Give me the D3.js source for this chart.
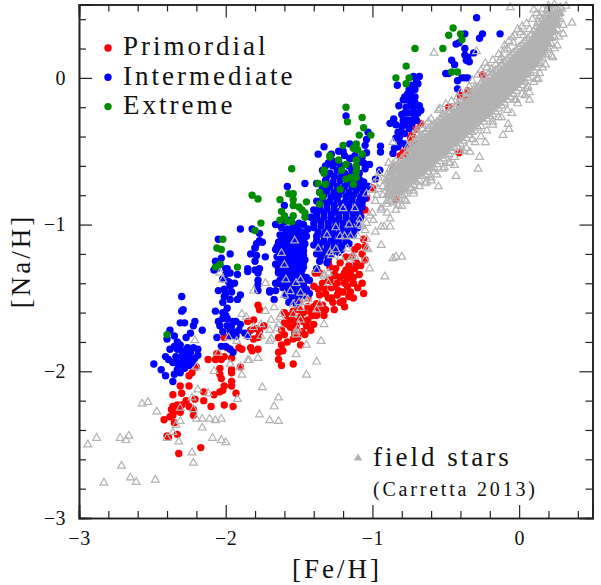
<!DOCTYPE html>
<html>
<head>
<meta charset="utf-8">
<script src="https://cdn.jsdelivr.net/npm/d3@7"></script>
<style>
html, body { margin: 0; padding: 0; background: #fff; }
svg { display: block; }
text { font-family: "Liberation Serif", serif; fill: #111; }
</style>
</head>
<body>
<div id="chart"></div>
<script>
// [Fe/H], [Na/H]
var primordial = [
[-2.32,-2.56],[-2.17,-2.52],[-2.40,-2.44],[-2.39,-2.45],[-2.33,-2.43],[-2.35,-2.35],[-2.42,-2.33],[-2.38,-2.31],[-2.36,-2.30],[-2.37,-2.26],
[-2.35,-2.27],[-2.31,-2.28],[-2.30,-2.23],[-2.33,-2.23],[-2.36,-2.24],[-2.32,-2.25],[-2.22,-2.30],[-2.25,-2.24],[-2.22,-2.26],[-2.21,-2.19],
[-2.15,-2.20],[-2.10,-2.24],[-2.15,-2.14],[-2.08,-2.16],[-2.04,-2.14],[-2.02,-2.13],[-2.01,-2.10],[-2.01,-2.23],[-1.95,-2.24],[-1.93,-2.15],
[-1.96,-2.10],[-1.96,-2.07],[-1.96,-2.01],[-1.96,-1.99],[-2.36,-2.16],[-2.31,-2.10],[-2.30,-2.15],[-2.25,-2.10],[-2.25,-2.03],[-2.23,-2.01],
[-2.20,-1.97],[-2.27,-2.20],[-2.12,-1.92],[-2.07,-1.92],[-2.06,-1.88],[-2.03,-1.92],[-2.01,-1.90],[-1.96,-1.91],[-2.04,-1.98],[-2.04,-2.02],
[-2.03,-2.05],[-1.90,-1.97],[-2.01,-1.77],[-1.99,-1.84],[-1.89,-1.85],[-1.91,-1.84],[-1.83,-1.84],[-1.82,-1.86],[-1.78,-1.85],[-1.85,-1.66],
[-1.81,-1.65],[-1.77,-1.58],[-1.78,-1.55],[-1.77,-1.73],[-1.78,-1.77],[-1.81,-1.78],[-1.74,-1.69],[-1.79,-1.71],[-1.83,-1.72],[-1.64,-1.92],
[-1.62,-1.96],[-1.54,-1.95],[-1.64,-1.87],[-1.61,-1.86],[-1.64,-1.77],[-1.62,-1.82],[-1.58,-1.80],[-1.54,-1.59],[-1.49,-1.63],[-1.56,-1.65],
[-1.60,-1.67],[-1.52,-1.69],[-1.45,-1.69],[-1.48,-1.73],[-1.42,-1.72],[-1.49,-1.82],[-1.51,-1.77],[-1.58,-1.62],[-1.62,-1.72],[-1.44,-1.65],
[-1.38,-1.54],[-1.36,-1.58],[-1.33,-1.62],[-1.40,-1.56],[-1.37,-1.44],[-1.30,-1.38],[-1.32,-1.47],[-1.28,-1.43],[-1.56,-1.70],[-1.53,-1.74],
[-1.47,-1.60],[-1.41,-1.62],[-1.19,-1.56],[-1.06,-1.47],[-1.15,-1.46],[-1.16,-1.49],[-1.23,-1.45],[-1.19,-1.40],[-1.13,-1.40],[-1.28,-1.50],
[-1.29,-1.38],[-1.25,-1.35],[-1.19,-1.33],[-1.15,-1.33],[-1.07,-1.40],[-1.22,-1.53],[-1.10,-1.43],[-1.26,-1.42],[-1.00,-.75],[-1.04,-.82],
[-1.05,-.90],[-1.10,-.98],[-1.08,-.94],[-1.06,-1.10],[-1.05,-1.15],[-1.10,-1.15],[-1.12,-1.17],[-1.18,-1.22],[-1.22,-1.26],[-1.18,-1.31],
[-1.11,-1.26],[-1.15,-1.33],[-1.20,-1.35],[-1.29,-1.29],[-1.36,-1.33],[-1.39,-1.33],[-1.30,-1.26],[-1.25,-1.30],[-1.14,-1.22],[-1.07,-1.20],
[-1.34,-1.40],[-1.40,-1.42],[-1.44,-1.50],[-1.50,-1.52],[-.67,-.31],[-.70,-.35],[-.73,-.39],[-.74,-.41],[-.70,-.45],[-.75,-.46],[-.77,-.49],
[-.81,-.53],[-.84,-.60],[-.86,-.63],[-.78,-.58],[-.76,-.54],[-.79,-.51],[-.25,.02],[-.35,-.09],[-.30,-.12],[-.31,-.15],[-.40,-.19],[-.48,-.20],
[-.40,-.12],[-.36,-.15],[-.41,-.51],[-.84,-.83],
[-1.60,-1.60],[-1.55,-1.62],[-1.50,-1.58],[-1.58,-1.68],[-1.53,-1.66],[-1.47,-1.66],[-1.42,-1.60],[-1.40,-1.68],[-1.46,-1.75],[-1.54,-1.78],
[-1.60,-1.75],[-1.44,-1.56],[-1.38,-1.62],[-1.34,-1.55],[-1.30,-1.50],[-1.36,-1.48],[-1.33,-1.43],[-1.27,-1.53],[-1.24,-1.48],[-1.20,-1.46],
[-1.24,-1.40],[-1.17,-1.42],[-1.13,-1.36],[-1.22,-1.36],[-1.26,-1.34],[-1.17,-1.37],[-1.12,-1.30],[-1.08,-1.28],[-1.05,-1.24],[-1.16,-1.28],
[-1.09,-1.34],[-1.26,-1.58],[-1.32,-1.58],[-1.20,-1.52],[-1.13,-1.50]
];

var intermediate = [
// -2.3 group
[-2.30,-1.49],[-2.30,-1.59],[-2.29,-1.58],[-2.31,-1.67],[-2.28,-1.67],[-2.21,-1.66],[-2.22,-1.69],[-2.16,-1.72],[-2.24,-1.74],[-2.38,-1.72],
[-2.35,-1.76],[-2.40,-1.78],[-2.27,-1.77],[-2.33,-1.80],[-2.38,-1.85],[-2.41,-1.90],[-2.39,-1.92],[-2.49,-1.95],[-2.44,-1.99],[-2.41,-2.03],
[-2.36,-2.07],[-2.33,-1.99],[-2.35,-2.02],[-2.33,-1.85],[-2.30,-1.86],[-2.26,-1.84],[-2.22,-1.84],[-2.19,-1.85],[-2.34,-1.90],[-2.30,-1.90],
[-2.27,-1.88],[-2.24,-1.87],[-2.19,-1.89],[-2.33,-1.94],[-2.29,-1.94],[-2.25,-1.91],[-2.21,-1.91],[-2.32,-1.97],[-2.28,-1.98],[-2.25,-1.96],
[-2.22,-1.94],[-2.35,-1.83],[-2.31,-1.82],[-2.36,-1.94],[-2.31,-2.01],[-2.27,-1.92],
// -1.95 group
[-1.90,-1.03],[-1.82,-1.03],[-2.05,-1.10],[-1.77,-1.06],[-1.79,-1.13],[-1.77,-1.11],[-1.97,-1.20],[-1.83,-1.20],[-1.80,-1.16],[-1.79,-1.21],
[-1.73,-1.22],[-2.07,-1.25],[-2.03,-1.23],[-2.04,-1.27],[-2.06,-1.30],[-2.00,-1.30],[-1.85,-1.30],[-1.77,-1.30],[-2.08,-1.31],[-1.99,-1.30],
[-1.97,-1.33],[-2.00,-1.34],[-1.92,-1.34],[-1.94,-1.40],[-1.98,-1.39],[-1.97,-1.42],[-2.05,-1.45],[-2.01,-1.44],[-2.01,-1.49],[-2.02,-1.53],
[-1.92,-1.51],[-1.90,-1.48],[-1.97,-1.51],[-2.07,-1.59],[-1.99,-1.57],[-2.00,-1.62],[-1.99,-1.64],[-2.05,-1.66],[-2.04,-1.69],[-1.99,-1.69],
[-1.95,-1.66],[-1.93,-1.66],[-1.90,-1.68],[-1.97,-1.72],[-2.02,-1.73],[-1.95,-1.73],[-1.91,-1.72],[-1.87,-1.74],[-2.06,-1.77],[-1.97,-1.76],
[-1.93,-1.76],[-1.85,-1.76],[-2.03,-1.83],[-2.00,-1.83],[-1.97,-1.85],[-1.95,-1.87],[-1.80,-1.16],[-1.85,-1.32],[-1.80,-1.31],[-1.78,-1.33],
[-1.78,-1.38],[-1.78,-1.41],[-1.78,-1.45],[-1.70,-1.46],[-1.66,-1.45],[-1.64,-1.32],[-1.65,-1.15],[-1.64,-1.40],[-1.75,-1.12],[-1.80,-1.25],
[-2.02,-1.60],[-2.00,-1.47],[-2.02,-1.37],[-1.96,-1.46],[-2.02,-1.64],[-1.96,-1.69],
// -1.55 group
[-1.58,-.74],[-1.46,-.72],[-1.66,-1.0],[-1.60,-.98],[-1.57,-.97],[-1.54,-1.0],[-1.50,-.99],[-1.47,-1.0],[-1.62,-1.02],[-1.58,-1.03],[-1.55,-1.04],
[-1.51,-1.03],[-1.48,-1.05],[-1.44,-1.03],[-1.63,-1.07],[-1.60,-1.08],[-1.56,-1.07],[-1.52,-1.08],[-1.49,-1.09],[-1.45,-1.08],[-1.64,-1.12],
[-1.61,-1.13],[-1.57,-1.12],[-1.53,-1.13],[-1.49,-1.14],[-1.46,-1.13],[-1.66,-1.17],[-1.62,-1.18],[-1.58,-1.17],[-1.54,-1.18],[-1.50,-1.19],
[-1.47,-1.18],[-1.65,-1.22],[-1.61,-1.23],[-1.57,-1.22],[-1.53,-1.24],[-1.49,-1.23],[-1.46,-1.24],[-1.66,-1.27],[-1.62,-1.28],[-1.58,-1.28],
[-1.54,-1.29],[-1.50,-1.28],[-1.47,-1.29],[-1.64,-1.33],[-1.60,-1.33],[-1.56,-1.34],[-1.52,-1.33],[-1.48,-1.35],[-1.63,-1.38],[-1.59,-1.39],
[-1.55,-1.38],[-1.51,-1.39],[-1.47,-1.40],[-1.43,-1.38],[-1.61,-1.43],[-1.57,-1.44],[-1.53,-1.44],[-1.49,-1.43],[-1.45,-1.44],[-1.59,-1.48],
[-1.55,-1.49],[-1.51,-1.49],[-1.47,-1.48],[-1.43,-1.47],[-1.57,-1.53],[-1.52,-1.54],[-1.70,-1.45],[-1.67,-1.51],[-1.66,-1.40],[-1.60,-.87],
[-1.59,-1.05],[-1.54,-1.06],[-1.50,-1.06],[-1.46,-1.06],[-1.62,-1.10],[-1.58,-1.10],[-1.54,-1.11],[-1.50,-1.11],[-1.47,-1.11],[-1.63,-1.15],
[-1.59,-1.15],[-1.55,-1.16],[-1.51,-1.16],[-1.47,-1.15],[-1.63,-1.20],[-1.59,-1.20],[-1.55,-1.21],[-1.51,-1.21],[-1.47,-1.21],[-1.63,-1.25],
[-1.59,-1.25],[-1.55,-1.26],[-1.51,-1.25],[-1.47,-1.26],[-1.64,-1.30],[-1.60,-1.30],[-1.56,-1.31],[-1.52,-1.30],[-1.48,-1.31],[-1.61,-1.36],
[-1.57,-1.36],[-1.53,-1.36],[-1.49,-1.37],[-1.45,-1.36],[-1.59,-1.41],[-1.55,-1.41],[-1.51,-1.42],[-1.47,-1.42],[-1.57,-1.46],[-1.53,-1.47],
[-1.49,-1.46],[-1.45,-1.46],
// -1.25 group
[-1.30,-.58],[-1.24,-.57],[-1.15,-.55],[-1.10,-.58],[-1.37,-.52],[-1.33,-.47],[-1.28,-.52],[-1.20,-.50],[-1.12,-.53],[-1.07,-.54],[-1.34,-.63],
[-1.29,-.65],[-1.24,-.63],[-1.19,-.65],[-1.14,-.63],[-1.09,-.65],[-1.05,-.62],[-1.38,-.72],[-1.32,-.70],[-1.27,-.71],[-1.22,-.70],[-1.17,-.71],
[-1.12,-.70],[-1.07,-.71],[-1.03,-.74],[-1.36,-.78],[-1.31,-.77],[-1.26,-.78],[-1.21,-.77],[-1.16,-.78],[-1.11,-.77],[-1.06,-.78],[-1.38,-.84],
[-1.34,-.83],[-1.29,-.84],[-1.24,-.83],[-1.19,-.85],[-1.14,-.83],[-1.09,-.84],[-1.05,-.82],[-1.40,-.90],[-1.36,-.90],[-1.31,-.89],[-1.26,-.90],
[-1.21,-.90],[-1.16,-.89],[-1.11,-.90],[-1.07,-.88],[-1.42,-.95],[-1.38,-.96],[-1.33,-.95],[-1.28,-.96],[-1.23,-.96],[-1.18,-.95],[-1.13,-.96],
[-1.08,-.95],[-1.40,-1.02],[-1.35,-1.01],[-1.30,-1.02],[-1.25,-1.01],[-1.20,-1.02],[-1.15,-1.01],[-1.10,-1.02],[-1.38,-1.08],[-1.33,-1.08],
[-1.28,-1.08],[-1.23,-1.07],[-1.18,-1.08],[-1.13,-1.07],[-1.40,-1.14],[-1.36,-1.13],[-1.31,-1.14],[-1.26,-1.13],[-1.21,-1.14],[-1.16,-1.13],
[-1.38,-1.20],[-1.33,-1.19],[-1.28,-1.20],[-1.23,-1.19],[-1.36,-1.25],[-1.31,-1.26],[-1.38,-1.30],[-1.18,-.26],[-1.155,-.45],[-1.23,-.50],
[-1.19,-.53],[-1.155,-.55],[-1.23,-.58],[-1.28,-.56],[-1.06,-.58],[-1.09,-.69],[-1.06,-.71],[-1.03,-.37],[-1.04,-.42],[-1.05,-.46],[-1.04,-.51],
[-1.02,-.59],[-.98,-.69],[-1.03,-.74],[-.945,-.465],[-.945,-.505],[-.95,-.63],
[-1.32,-.60],[-1.27,-.60],[-1.21,-.60],[-1.16,-.60],[-1.11,-.61],[-1.31,-.67],[-1.26,-.67],[-1.21,-.67],[-1.16,-.67],[-1.11,-.67],[-1.34,-.75],
[-1.29,-.74],[-1.24,-.74],[-1.19,-.74],[-1.14,-.74],[-1.09,-.74],[-1.05,-.75],[-1.33,-.80],[-1.28,-.81],[-1.23,-.80],[-1.18,-.81],[-1.13,-.80],
[-1.08,-.81],[-1.36,-.87],[-1.31,-.86],[-1.26,-.87],[-1.21,-.86],[-1.16,-.86],[-1.11,-.87],[-1.07,-.85],[-1.38,-.93],[-1.33,-.92],[-1.28,-.93],
[-1.23,-.93],[-1.18,-.92],[-1.13,-.93],[-1.09,-.92],[-1.40,-.99],[-1.35,-.98],[-1.30,-.99],[-1.25,-.98],[-1.20,-.99],[-1.15,-.98],[-1.10,-.98],
[-1.37,-1.05],[-1.32,-1.05],[-1.27,-1.05],[-1.22,-1.05],[-1.17,-1.05],[-1.12,-1.04],[-1.38,-1.11],[-1.33,-1.11],[-1.28,-1.11],[-1.23,-1.10],
[-1.18,-1.11],[-1.36,-1.17],[-1.31,-1.17],[-1.26,-1.16],[-1.21,-1.17],[-1.35,-1.22],[-1.30,-1.23],
// -0.75 group
[-.83,-.05],[-.68,.01],[-.72,.01],[-.70,-.02],[-.69,-.04],[-.71,-.08],[-.73,-.05],[-.76,-.11],[-.78,-.13],[-.79,-.15],[-.75,-.15],[-.71,-.13],
[-.68,-.19],[-.67,-.22],[-.69,-.24],[-.72,-.20],[-.77,-.20],[-.82,-.19],[-.78,-.24],[-.73,-.24],[-.70,-.29],[-.75,-.29],[-.79,-.29],[-.855,-.28],
[-.88,-.31],[-.84,-.32],[-.80,-.33],[-.75,-.345],[-.825,-.37],[-.78,-.38],[-.84,-.41],[-.81,-.44],[-.85,-.48],[-.825,-.47],[-.78,-.45],[-.86,-.515],
[-.77,-.15],[-.75,-.08],[-.80,-.25],[-.815,-.40],[-.78,-.32],[-.74,-.11],[-.74,-.19],[-.71,-.17],[-.76,-.24],[-.71,-.27],[-.77,-.29],[-.73,-.31],
[-.80,-.37],
// top right group
[-.29,.41],[-.25,.30],[-.27,.27],[-.13,.30],[-.37,.30],[-.43,.23],[-.41,.24],[-.37,.20],[-.37,.155],[-.31,.17],[-.35,.14],[-.36,.12],[-.34,.11],
[-.46,.12],[-.44,.09],[-.50,.03],[-.48,.03],[-.39,0],[-.42,-.02],[-.37,0],[-.35,0],[-.42,-.075]
];

var extreme = [
[-2.40,-1.75],[-1.92,-1.29],[-1.55,-.62],[-1.82,-.80],[-1.78,-.825],[-1.76,-.99],[-1.80,-1.04],[-2.02,-1.10],[-2.06,-1.16],[-2.03,-1.17],
[-2.04,-1.27],[-2.07,-1.29],[-1.63,-.83],[-1.57,-.79],[-1.54,-.79],[-1.54,-.83],[-1.54,-.87],[-1.45,-.845],[-1.62,-.91],[-1.60,-.94],[-1.54,-.94],
[-1.50,-.88],[-1.48,-.90],[-1.46,-.92],[-1.46,-.95],[-1.63,-.97],[-1.58,-.975],[-1.55,-.98],[-1.36,-.86],[-1.37,-.72],[-1.32,-.725],[-1.36,-.78],
[-1.34,-.81],[-1.33,-.63],[-1.33,-.65],[-1.29,-.54],[-1.18,-.20],[-1.17,-.30],[-1.07,-.27],[-1.06,-.34],[-1.01,-.39],[-1.09,-.39],[-1.20,-.46],
[-1.11,-.45],[-1.13,-.48],[-1.10,-.49],[-1.07,-.52],[-1.29,-.53],[-1.23,-.56],[-1.18,-.59],[-1.11,-.56],[-1.11,-.60],[-1.21,-.63],[-1.11,-.64],
[-1.18,-.69],[-1.15,-.68],[-1.11,-.68],[-1.13,-.725],[-1.22,-.76],[-.84,0],[-.77,.08],[-.75,0],[-.77,-.04],[-.71,.20],[-.52,.20],[-.45,.34],
[-.48,.29],[-.40,.30],[-.39,.26],[-.42,.04],[-.46,.04]
];

// scattered field stars
var fieldScatter = [
[-2.94,-2.50],[-2.88,-2.455],[-2.72,-2.455],[-2.68,-2.47],[-2.66,-2.44],[-2.83,-2.76],[-2.71,-2.645],[-2.65,-2.725],[-2.61,-2.755],[-2.48,-2.74],
[-2.57,-2.22],[-2.53,-2.21],[-2.47,-2.275],[-2.23,-2.555],[-2.22,-2.625],[-2.09,-2.455],[-2.03,-2.47],[-2.0,-2.485],[-2.16,-2.385],[-2.20,-2.325],
[-2.16,-2.325],[-2.11,-2.325],[-2.07,-2.335],[-2.03,-2.325],[-2.31,-2.34],[-2.34,-2.365],[-2.36,-2.415],[-2.40,-2.455],[-2.32,-2.48],[-2.31,-2.25],
[-2.22,-2.26],[-2.23,-2.18],[-2.19,-2.125],[-2.12,-2.15],[-1.92,-2.19],[-1.77,-2.295],[-1.70,-2.335],[-1.64,-2.34],[-1.67,-2.24],[-1.64,-2.18],
[-1.75,-2.11],[-1.45,-2.025],[-1.38,-1.935],[-1.52,-1.885],[-1.35,-1.795],[-1.33,-1.68],[-1.45,-1.82],[-2.08,-2.0],[-1.89,-2.025],[-2.20,-1.97],
[-2.05,-1.875],[-2.21,-1.79],[-1.98,-1.77],[-1.78,-1.91],[-1.84,-1.925],[-1.85,-1.925],[-1.90,-1.97],[-1.97,-1.95],[-1.85,-1.76],[-1.925,-1.795],
[-1.76,-1.76],[-1.70,-1.795],[-1.69,-1.78],[-1.70,-1.72],[-1.76,-1.68],[-1.81,-1.70],[-1.89,-1.61],[-1.86,-1.63],[-1.81,-1.45],[-1.73,-1.40],
[-2.02,-1.375],[-2.04,-1.33],[-1.73,-1.59],[-1.69,-1.65],[-1.67,-1.565],[-1.62,-1.61],[-1.63,-1.63],[-1.64,-1.68],[-1.65,-1.71],[-1.52,-1.75],
[-1.52,-1.73],[-1.49,-1.65],[-1.51,-1.71],[-1.54,-1.61],[-1.54,-1.545],[-1.49,-1.57],[-1.50,-1.53],[-1.45,-1.53],[-1.44,-1.51],[-1.46,-1.50],
[-1.60,-1.48],[-1.56,-1.455],[-1.49,-1.465],[-1.52,-1.40],[-1.49,-1.375],[-1.59,-1.375],[-1.38,-1.31],[-1.38,-1.58],[-1.33,-1.35],[-1.30,-1.40],
[-1.36,-1.54],[-1.53,-1.11],[-1.62,-1.195],[-1.60,-1.275],[-1.37,-1.165],[-1.31,-1.07],[-1.20,-.89],[-1.12,-.89],[-1.25,-1.02],[-1.16,-1.0],[-1.09,-1.0],
[-1.085,-.965],[-1.22,-1.08],[-1.19,-1.08],[-1.15,-1.08],[-1.10,-1.08],[-1.25,-1.17],[-1.17,-1.165],[-1.29,-1.19],[-1.28,-1.21],[-1.12,-1.22],
[-1.22,-1.22],[-1.33,-1.34],[-1.30,-1.33],[-1.15,-1.24],[-1.14,-1.22],[-1.04,-.79],[-1.0,-.92],[-.98,-1.05],[-.94,-1.14],[-1.05,-1.04],[-1.07,-1.01],
[-1.04,-1.10],[-1.04,-1.16],[-.915,-1.355],[-1.03,-1.17],[-1.05,-1.24],[-1.02,-1.30],[-.86,-1.23],[-.84,-1.22],[-.80,-1.22],[-.88,-1.015],
[-.92,-1.015],[-.88,-.96],[-.94,-1.015],[-1.02,-.94],[-.995,-.97],[-1.04,-.99],[-.94,-.885],[-.825,-.87],[-.77,-.84],[-.80,-.875],[-.55,-.74],
[-.43,-.67],[-.28,-.62],[-.27,-.54],[-.11,-.39],[-.07,-.35],[-.075,-.315],[-.01,-.175],[.07,-.15],[.13,-.005],[.23,.14],[.36,.375],[.32,.49],
[-.06,.48],[.10,.465],[.14,.42],[-.045,.275],[.01,.31],[-.10,.19],[-.23,.10],[-.13,.12],[-.29,.18],[-.58,.17],[-.16,.09],[-.2,.04],[-.245,-.06],
[-.86,-.44],[-.89,-.58],[-.955,-.65],[-1.0,-.765],[-.97,-.80],[-.93,-.74],[-.54,-.21],[-.50,-.18],[-.56,-.33],[-.63,-.71],[-.72,-.77],[-.51,-.61],
[-.44,-.595],[-.335,-.505],[-.23,-.44],[-.05,-.24],[.04,-.12],[.07,-.10],[.12,-.01],[-.62,-.30],[-.66,-.35],[-.70,-.38],[-.76,-.47],[-.48,-.24],
[-.36,-.10],[-.30,-.06],[-.24,.0],[-.19,.06],[-.12,.14],[-.08,.20],[-.04,.24],[.03,.29],[.07,.33],[.13,.38],[.19,.46],[.24,.50],[-.60,-.68],
[-.58,-.64],[-.47,-.58],[-.38,-.50],[-.30,-.44],[-.18,-.32],[-.12,-.27],[-.03,-.15],[.05,-.07],[.16,.07],[.24,.20],[.27,.28],[.30,.36],[.29,.47],
// left of the band foot
[-.99,-.72],[-.96,-.76],[-.93,-.80],[-.98,-.84],[-.94,-.90],[-.90,-.92],[-.96,-.68],[-.91,-.70],[-.88,-.76],[-.90,-.84],
// band edges
[-.74,-.42],[-.70,-.36],[-.66,-.32],[-.60,-.28],[-.55,-.22],[-.52,-.25],[-.46,-.16],[-.42,-.13],[-.40,-.10],[-.34,-.06],[-.32,-.02],[-.28,.02],
[-.26,.05],[-.22,.07],[-.18,.12],[-.14,.16],[-.10,.22],[-.07,.25],[-.03,.29],[-.01,.33],[.02,.35],[.05,.37],[.09,.40],[.12,.44],[.16,.47],[.20,.49],
[-.84,-.90],[-.78,-.83],[-.72,-.79],[-.68,-.74],[-.64,-.72],[-.60,-.70],[-.56,-.66],[-.52,-.62],[-.48,-.58],[-.44,-.54],[-.40,-.50],[-.36,-.48],
[-.32,-.42],[-.26,-.40],[-.22,-.36],[-.18,-.30],[-.14,-.27],[-.08,-.22],[-.02,-.15],[.02,-.11],[.06,-.06],[.10,-.03],[.14,.03],[.18,.09],[.22,.15],
[.26,.22],[.30,.30]
];

// dense part of the field star band: one row of [Na/H] per [Fe/H] column
var bandFe = [-.90,-.88,-.86,-.84,-.82,-.80,-.78,-.76,-.74,-.72,-.70,-.68,-.66,-.64,-.62,-.60,-.58,-.56,-.54,-.52,-.50,-.48,-.46,-.44,-.42,-.40,-.38,-.36,-.34,-.32,-.30,-.28,-.26,-.24,-.22,-.20,-.18,-.16,-.14,-.12,-.10,-.08,-.06,-.04,-.02,0,.02,.04,.06,.08,.10,.12,.14,.16,.18,.20,.22,.24,.26,.28];
var bandNa = [
[-.86,-.80,-.75,-.70,-.66],[-.84,-.79,-.74,-.71,-.65,-.62],[-.85,-.81,-.76,-.72,-.68,-.63,-.59],[-.82,-.77,-.73,-.70,-.64,-.60,-.57],
[-.83,-.78,-.74,-.69,-.66,-.61,-.58],[-.80,-.75,-.71,-.67,-.63,-.59,-.55],[-.79,-.76,-.70,-.65,-.62,-.57,-.53],[-.77,-.72,-.69,-.64,-.60,-.56,-.51],
[-.75,-.70,-.66,-.63,-.58,-.54,-.49,-.46],[-.73,-.69,-.65,-.60,-.57,-.52,-.48,-.44],[-.71,-.67,-.62,-.59,-.55,-.50,-.47,-.43],[-.70,-.65,-.61,-.56,-.53,-.49,-.44,-.41],
[-.67,-.64,-.59,-.55,-.51,-.48,-.42,-.39],[-.66,-.61,-.58,-.53,-.50,-.45,-.41,-.37],[-.64,-.60,-.55,-.52,-.47,-.43,-.39,-.35],[-.62,-.58,-.53,-.49,-.46,-.41,-.37,-.33],
[-.61,-.56,-.52,-.48,-.44,-.40,-.35,-.32],[-.59,-.54,-.50,-.45,-.42,-.38,-.34,-.30],[-.57,-.53,-.48,-.44,-.40,-.36,-.32,-.28],[-.55,-.51,-.46,-.43,-.38,-.35,-.30,-.27],
[-.53,-.49,-.45,-.41,-.37,-.33,-.29,-.25],[-.52,-.47,-.43,-.39,-.35,-.31,-.27,-.23],[-.50,-.45,-.41,-.38,-.33,-.29,-.26,-.21],[-.48,-.44,-.40,-.36,-.31,-.28,-.24,-.20],
[-.47,-.42,-.38,-.34,-.30,-.26,-.22,-.18],[-.45,-.41,-.36,-.32,-.28,-.25,-.20,-.16],[-.43,-.38,-.35,-.30,-.27,-.22,-.18,-.15],[-.41,-.37,-.33,-.28,-.25,-.21,-.17,-.13],
[-.39,-.35,-.31,-.27,-.23,-.19,-.15,-.11],[-.37,-.33,-.30,-.25,-.21,-.18,-.13,-.10],[-.36,-.31,-.27,-.24,-.19,-.16,-.11,-.08],[-.34,-.29,-.26,-.22,-.18,-.14,-.10,-.06],
[-.33,-.28,-.24,-.20,-.16,-.12,-.08,-.04],[-.30,-.26,-.22,-.18,-.14,-.10,-.06,-.03],[-.28,-.24,-.20,-.16,-.12,-.09,-.04,-.01],[-.26,-.23,-.18,-.15,-.10,-.07,-.03,.01],
[-.25,-.21,-.17,-.13,-.09,-.05,-.01,.03],[-.23,-.19,-.15,-.11,-.07,-.03,.01,.05],[-.21,-.17,-.13,-.09,-.05,-.01,.03,.07],[-.19,-.15,-.11,-.07,-.03,.01,.05,.09],
[-.17,-.13,-.09,-.05,-.01,.03,.07,.11],[-.15,-.11,-.07,-.03,.01,.04,.09,.13],[-.13,-.09,-.05,-.01,.03,.07,.11,.15],[-.11,-.07,-.03,.01,.05,.09,.13,.17],
[-.09,-.05,-.01,.03,.07,.11,.15,.19],[-.07,-.03,.01,.05,.08,.12,.17,.21],[-.05,-.01,.03,.07,.11,.14,.19,.23],[-.02,.02,.05,.09,.13,.17,.21,.25],
[0,.04,.08,.12,.15,.19,.23,.27],[.03,.07,.10,.14,.18,.22,.25,.29],[.05,.09,.13,.17,.21,.24,.28,.32],[.07,.11,.15,.19,.23,.27,.31,.35],
[.10,.14,.18,.22,.26,.30,.34,.37],[.13,.17,.21,.25,.29,.33,.37,.40],[.16,.20,.24,.28,.32,.36,.39,.42],[.19,.23,.27,.31,.35,.38,.41,.44],
[.23,.27,.31,.35,.38,.41,.44],[.28,.32,.36,.40,.43,.46],[.33,.37,.41,.44,.47],[.40,.44,.48]
];

var majorTicks = [-3,-2,-1,0];
var minorFe = [-2.8,-2.6,-2.4,-2.2,-1.8,-1.6,-1.4,-1.2,-0.8,-0.6,-0.4,-0.2,0.2,0.4];
var minorNa = [-2.8,-2.6,-2.4,-2.2,-1.8,-1.6,-1.4,-1.2,-0.8,-0.6,-0.4,-0.2,0.2,0.4];
var legendGroups = ["Primordial","Intermediate","Extreme"];
var legendColors = ["#ff0000","#0000ff","#008c00"];

var W = 601, H = 585;
var left = 79, right = 592.5, top_ = 4.5, bottom = 518;
var svg = d3.select("#chart").append("svg").attr("width",W).attr("height",H);

var x = d3.scaleLinear().domain([-3,0.5]).range([left,right]);
var y = d3.scaleLinear().domain([-3,0.5]).range([bottom,top_]);

// points first, frame on top
function dots(data,color){
    svg.append("g").selectAll("circle").data(data).enter().append("circle")
        .attr("cx",function(d){return x(d[0])})
        .attr("cy",function(d){return y(d[1])})
        .attr("r",3.7)
        .attr("fill",color)
}
dots(primordial,legendColors[0]);
dots(intermediate,legendColors[1]);
dots(extreme,legendColors[2]);

var fieldGray = "#b2b2b2";
var tri = d3.symbol().type(d3.symbolTriangle).size(26);
function triangles(data,fill){
    svg.append("g").selectAll("path").data(data).enter().append("path")
        .attr("d",tri)
        .attr("transform",function(d){return "translate("+x(d[0])+","+y(d[1])+")"})
        .attr("fill",fill)
        .attr("stroke",fieldGray)
        .attr("stroke-width",1.2)
}
// inside of the band the triangles merge, so only its outer rows stay open
var bandInner = [], bandOuter = [];
bandFe.forEach(function(fe,i){
    bandNa[i].forEach(function(na,j){
        if(j==0 || j==bandNa[i].length-1) bandOuter.push([fe,na])
        else bandInner.push([fe,na])
    })
});
triangles(fieldScatter.concat(bandOuter),"none");
triangles(bandInner,fieldGray);

// axes: ticks point inward on all four sides
function fmt(d){ return d<0 ? "\u2212"+Math.abs(d) : d }
function drawAxis(axisFn,scale,dx,dy,minor,labels){
    var gMajor = svg.append("g").attr("transform","translate("+dx+","+dy+")")
        .call(axisFn(scale).tickValues(majorTicks).tickSize(-13).tickPadding(labels?13:0).tickFormat(labels?fmt:""));
    var gMinor = svg.append("g").attr("transform","translate("+dx+","+dy+")")
        .call(axisFn(scale).tickValues(minor).tickSize(-7).tickFormat(""));
    [gMajor,gMinor].forEach(function(g){
        g.selectAll("line").attr("stroke","#222").attr("stroke-width",1.2);
        g.selectAll(".domain").attr("stroke","#222").attr("stroke-width",1.6);
        g.selectAll("text").style("font-family",'"Liberation Serif", serif').style("font-size","20px").attr("fill","#111").style("letter-spacing","0.5px");
    });
}
drawAxis(d3.axisBottom,x,0,bottom,minorFe,true);
drawAxis(d3.axisTop,x,0,top_,minorFe,false);
drawAxis(d3.axisLeft,y,left,0,minorNa,true);
drawAxis(d3.axisRight,y,right,0,minorNa,false);

// axis titles
svg.append("text").attr("x",337).attr("y",578).attr("text-anchor","middle")
    .style("font-size","27px").style("letter-spacing","3px").text("[Fe/H]");
svg.append("text").attr("transform","translate(30,261) rotate(-90)").attr("text-anchor","middle")
    .style("font-size","27px").style("letter-spacing","3px").text("[Na/H]");

// legend
legendGroups.forEach(function(name,i){
    var yy = 48 + i*29.3;
    svg.append("circle").attr("cx",108).attr("cy",yy).attr("r",3.7).attr("fill",legendColors[i]);
    svg.append("text").attr("x",123).attr("y",yy+7.2).style("font-size","27px").style("letter-spacing","3px").text(name);
});
svg.append("path").attr("d",d3.symbol().type(d3.symbolTriangle).size(30))
    .attr("transform","translate(358,458)").attr("fill",fieldGray);
svg.append("text").attr("x",373).attr("y",466).style("font-size","27px").style("letter-spacing","3px").text("field stars");
svg.append("text").attr("x",373).attr("y",496).style("font-size","20px").style("letter-spacing","2.8px").text("(Carretta 2013)");
</script>
</body>
</html>
